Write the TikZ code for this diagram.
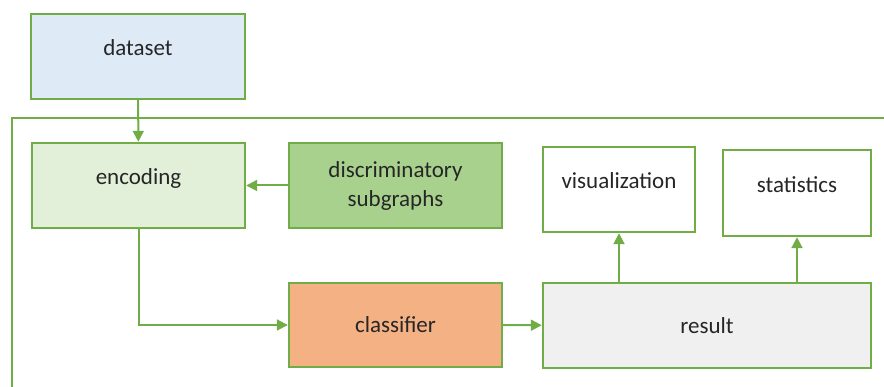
\documentclass[tikz,border=0pt]{standalone}
\usepackage{fontspec}
\setmainfont{Carlito}
\usepackage{xcolor}
\usetikzlibrary{arrows.meta, positioning}
\definecolor{frameGreen}{HTML}{70AD47}
\definecolor{fillBlue}{HTML}{DEEBF7}
\definecolor{fillPale}{HTML}{E2F0D9}
\definecolor{fillGreen}{HTML}{A9D18E}
\definecolor{fillOrange}{HTML}{F4B183}
\definecolor{fillGray}{HTML}{F0F0F0}
\definecolor{textDark}{HTML}{262626}
\tikzset{
  box/.style={rectangle, draw=frameGreen, line width=2.4pt, inner sep=0pt, text=textDark, align=center, font=\fontsize{23}{29}\selectfont},
  upper/.style={text height=14pt, text depth=15pt},
  arrow/.style={-{Triangle[length=11pt, width=11pt]}, draw=frameGreen, line width=2pt},
}
\begin{document}
\begin{tikzpicture}[x=1pt, y=-1pt]
  \useasboundingbox (0,0) rectangle (884,387);
  % outer frame (open to the right and bottom)
  \draw[frameGreen, line width=2pt] (12,390) -- (12,118) -- (890,118);

  % boxes
  \node[box, upper, fill=fillBlue, minimum width=214pt, minimum height=85pt] (dataset) at (138,56.5) {dataset};
  \node[box, upper, fill=fillPale, minimum width=213pt, minimum height=85pt] (encoding) at (138.5,185.5) {encoding};
  \node[box, fill=fillGreen, minimum width=213pt, minimum height=85pt] (subgraphs) at (395.5,185.5) {discriminatory\\subgraphs};
  \node[box, upper, fill=white, minimum width=152pt, minimum height=85pt] (visual) at (619,189.5) {visualization};
  \node[box, upper, fill=white, minimum width=148pt, minimum height=86pt] (stats) at (797,193) {statistics};
  \node[box, fill=fillOrange, minimum width=213pt, minimum height=84pt] (classifier) at (395.5,325) {classifier};
  \node[box, fill=fillGray, minimum width=328pt, minimum height=85pt] (result) at (707,325.5) {result};

  % connectors
  \draw[arrow] (dataset) -- (encoding);
  \draw[arrow] (subgraphs) -- (encoding);
  \draw[arrow] (encoding.south) |- (classifier.west);
  \draw[arrow] (classifier) -- (result);
  \draw[arrow] (result.north -| visual.south) -- (visual.south);
  \draw[arrow] (result.north -| stats.south) -- (stats.south);
\end{tikzpicture}
\end{document}
